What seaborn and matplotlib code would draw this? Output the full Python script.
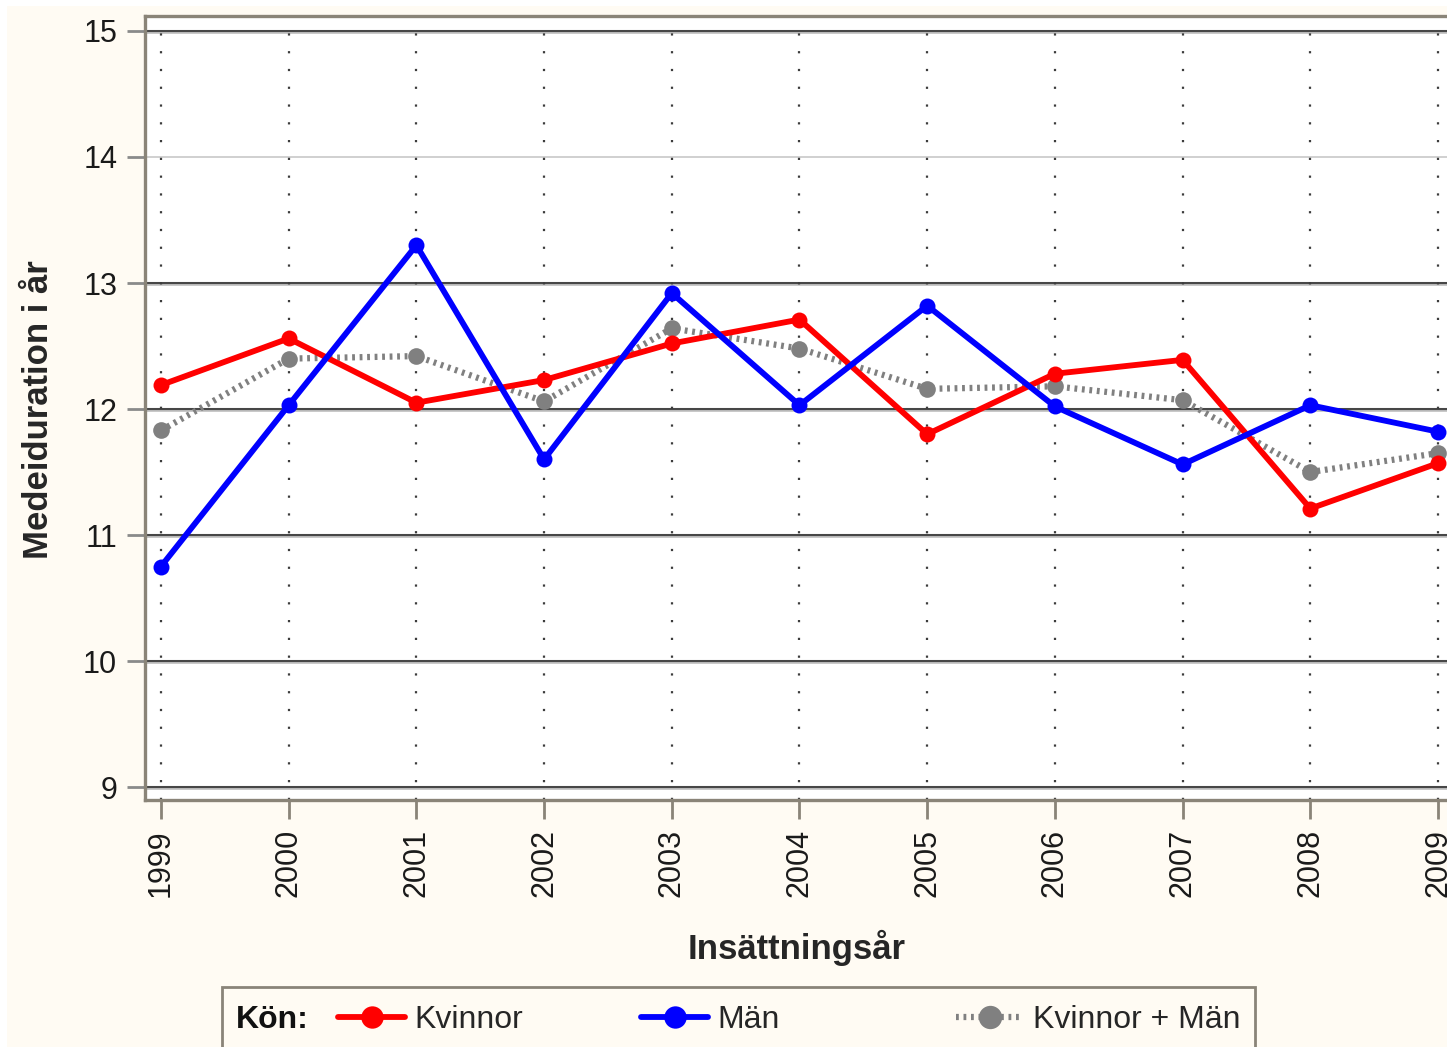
import numpy as np
import pandas as pd
import matplotlib
matplotlib.use("Agg")
import matplotlib.pyplot as plt
import seaborn as sns
from matplotlib.patches import Rectangle

years = [1999, 2000, 2001, 2002, 2003, 2004, 2005, 2006, 2007, 2008, 2009]
kvinnor = [12.19, 12.56, 12.05, 12.23, 12.52, 12.71, 11.80, 12.28, 12.39, 11.21, 11.57]
man = [10.75, 12.03, 13.30, 11.60, 12.92, 12.03, 12.82, 12.02, 11.56, 12.03, 11.82]
totalt = [11.83, 12.40, 12.42, 12.06, 12.64, 12.48, 12.16, 12.18, 12.07, 11.50, 11.65]
y_ticks = [9, 10, 11, 12, 13, 14, 15]

sns.set_style("white")
plt.rcParams['font.family'] = ['Liberation Sans', 'DejaVu Sans']

BG = '#fffbf3'
FRAME = '#8a8478'

fig = plt.figure(figsize=(14.47, 10.47), dpi=100, facecolor='white')
fig.patches.append(Rectangle((7 / 1447, -0.01), 1.0, 1.01 - 6 / 1047, transform=fig.transFigure,
                             facecolor=BG, edgecolor='none', zorder=-10))
ax = fig.add_axes([145 / 1447, 247 / 1047, 1315 / 1447, 784 / 1047])
ax.set_facecolor('white')

# grid lines
for yv in y_ticks:
    if yv == 14:
        ax.axhline(yv, color='#c8c8c8', lw=1.2, zorder=1)
    else:
        ax.axhline(yv, color='#474747', lw=2.2, zorder=1)
        ax.axhline(yv - 0.014, color='#c4c4c4', lw=1.3, zorder=1)
for xv in years:
    ax.axvline(xv, color='#3c3c3c', lw=1.6, linestyle=(0, (1, 7)), zorder=1)

df = pd.DataFrame({'year': years, 'Kvinnor': kvinnor, 'Män': man, 'Kvinnor + Män': totalt})

sns.lineplot(data=df, x='year', y='Kvinnor + Män', ax=ax, color='#808080', linewidth=4.5,
             linestyle=(0, (0.45, 0.75)), marker='o', markersize=12, markeredgewidth=0,
             legend=False, zorder=3)
h_tot = ax.lines[-1]
sns.lineplot(data=df, x='year', y='Kvinnor', ax=ax, color='#ff0000', linewidth=4.2,
             marker='o', markersize=11.5, markeredgewidth=0, legend=False, zorder=4)
h_kv = ax.lines[-1]
sns.lineplot(data=df, x='year', y='Män', ax=ax, color='#0000ff', linewidth=4.2,
             marker='o', markersize=11.5, markeredgewidth=0, legend=False, zorder=5)
h_man = ax.lines[-1]

ax.set_xlim(1998.875, 2009.172)
ax.set_ylim(8.897, 15.119)
ax.set_xticks(years)
ax.set_xticklabels([str(y) for y in years], rotation=90, fontsize=22, color='#1a1a1a')
ax.set_yticks(y_ticks)
ax.set_yticklabels([str(y) for y in y_ticks], fontsize=22, color='#1a1a1a')
ax.tick_params(axis='x', direction='out', length=14, width=2, color=FRAME, pad=7, bottom=True)
ax.tick_params(axis='y', direction='out', length=13, width=2, color='#8a8a8a', pad=7, left=True)
for s in ax.spines.values():
    s.set_color(FRAME)
    s.set_linewidth(2.4)

ax.set_xlabel('Insättningsår', fontsize=25, fontweight='bold')
ax.set_ylabel('Medeiduration i år', fontsize=25, fontweight='bold')
ax.xaxis.set_label_coords((797 - 145) / 1315, -(930 - 800) / 784)
ax.yaxis.set_label_coords(-(145 - 55) / 1315, (800 - 410) / 784)

# legend box
fig.patches.append(Rectangle((222 / 1447, -0.02), 1033 / 1447, 0.02 + 1 - 987 / 1047,
                             transform=fig.transFigure, facecolor=BG, edgecolor=FRAME,
                             lw=2, zorder=5))
ly = 1 - 1020 / 1047
fig.text(236 / 1447, ly, 'Kön:', fontsize=23, fontweight='bold', va='center', ha='left',
         color='#111111', zorder=6)
for h, lab, xpos in [(h_kv, 'Kvinnor', 338), (h_man, 'Män', 641), (h_tot, 'Kvinnor + Män', 956)]:
    lg = fig.legend(handles=[h], labels=[lab], loc='center left', bbox_to_anchor=(xpos / 1447, ly),
                    frameon=False, fontsize=23, handlelength=2.1, handletextpad=0.3,
                    borderpad=0, borderaxespad=0, markerscale=1.4)
    lg.set_zorder(7)

fig.savefig('out.png', dpi=100, facecolor=fig.get_facecolor())
